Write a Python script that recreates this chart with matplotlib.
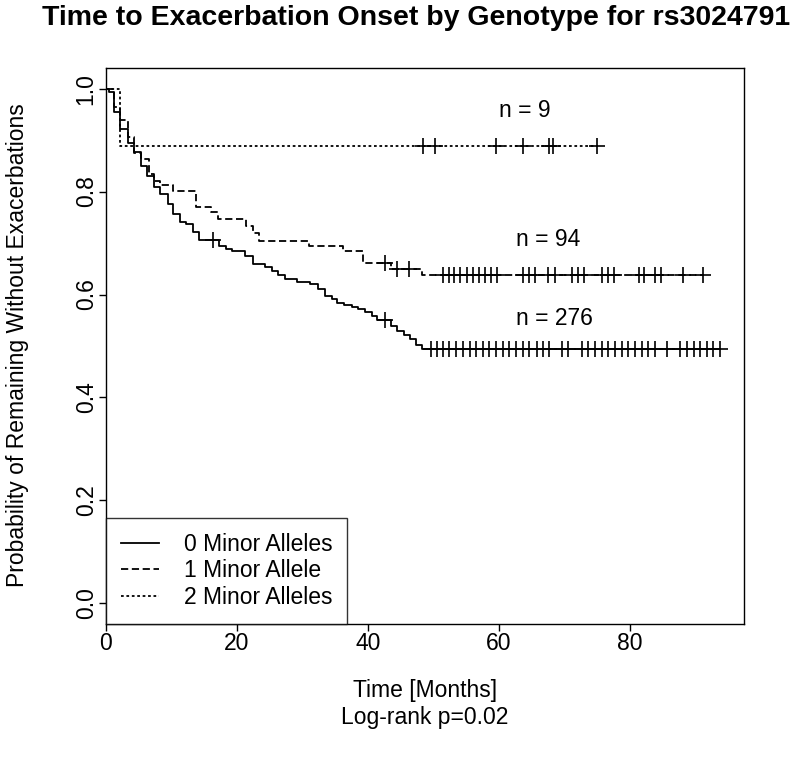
import matplotlib
matplotlib.use("Agg")
import matplotlib.pyplot as plt
import numpy as np

plt.rcParams['font.family'] = ['Liberation Sans', 'DejaVu Sans']

# 0 minor alleles (n = 276): tempi degli eventi e sopravvivenza dopo ogni evento
tempi0 = [0.5, 1.2, 2.1, 3.3, 4.2, 5.3, 6.2, 7.3, 8.2, 9.4, 10.3, 11.3, 12.2, 13.3,
          14.2, 17.3, 18.3, 19.3, 21.2, 22.4, 24.3, 25.3, 26.3, 27.3, 29.2, 31.2,
          32.4, 33.4, 34.5, 35.3, 36.4, 37.5, 38.5, 39.5, 40.6, 41.4, 43.5, 44.5,
          45.5, 46.4, 47.4, 48.3]
surv0 = [0.994, 0.955, 0.922, 0.895, 0.877, 0.850, 0.831, 0.809, 0.796, 0.776,
         0.757, 0.741, 0.736, 0.721, 0.706, 0.695, 0.688, 0.685, 0.674, 0.660,
         0.653, 0.646, 0.637, 0.630, 0.624, 0.620, 0.610, 0.598, 0.591, 0.584,
         0.579, 0.575, 0.571, 0.566, 0.558, 0.551, 0.538, 0.530, 0.521, 0.514,
         0.501, 0.494]
censure0 = [16.4, 42.6, 49.6, 50.5, 51.5, 52.4, 53.4, 54.5, 55.5, 56.5, 57.5, 58.5,
            59.6, 60.6, 61.6, 62.6, 63.6, 64.6, 65.8, 66.7, 67.7, 69.6, 70.6, 72.6,
            73.6, 74.7, 75.7, 76.7, 77.7, 78.7, 79.7, 80.8, 81.8, 82.8, 83.8, 85.6,
            87.6, 88.7, 89.7, 90.7, 91.7, 92.7, 93.7]

# 1 minor allele (n = 94)
tempi1 = [1.2, 2.1, 3.3, 4.2, 5.3, 6.5, 7.3, 8.2, 10.3, 13.8, 16.1, 17.1, 21.4,
          22.4, 23.4, 31.0, 36.2, 39.3, 43.5, 48.3]
surv1 = [0.965, 0.938, 0.905, 0.874, 0.864, 0.835, 0.820, 0.812, 0.801, 0.770,
         0.760, 0.746, 0.734, 0.720, 0.704, 0.695, 0.684, 0.661, 0.650, 0.638]
censure1 = [42.6, 44.4, 46.3, 51.4, 52.3, 53.2, 54.1, 55.1, 56.0, 56.9, 57.8, 58.7,
            59.7, 63.7, 64.6, 65.5, 67.5, 68.6, 71.1, 72.0, 72.9, 75.7, 76.6, 77.5,
            81.3, 82.2, 83.8, 84.7, 88.1, 91.2]

# 2 minor alleles (n = 9)
tempi2 = [2.1]
surv2 = [0.889]
censure2 = [48.4, 50.2, 59.5, 63.6, 67.6, 68.2, 74.9]

etichette = ['0 Minor Alleles', '1 Minor Allele', '2 Minor Alleles']
numeri = ['n = 276', 'n = 94', 'n = 9']
pos_n = [(68.5, 0.553), (67.5, 0.706), (64.0, 0.957)]


def disegna_curva(ax, tempi, surv, censure, stile, label):
    fine = max(max(censure), max(tempi))
    x = [0] + tempi + [fine]
    y = [1.0] + surv + [surv[-1]]
    ax.step(x, y, where='post', color='black', lw=1.3, linestyle=stile, label=label)
    t = np.array(tempi)
    s = np.array([1.0] + surv)
    yc = s[np.searchsorted(t, censure, side='right')]
    ax.plot(censure, yc, linestyle='none', marker='+', color='black',
            markersize=12, markeredgewidth=1.2)


fs = 16.5
fig = plt.figure(figsize=(8, 7.62), dpi=100)
ax = fig.add_axes([0.1325, 0.1811, 0.7975, 0.7297])

stili = ['-', (0, (4, 2)), (0, (1.5, 1.5))]
disegna_curva(ax, tempi0, surv0, censure0, stili[0], etichette[0])
disegna_curva(ax, tempi1, surv1, censure1, stili[1], etichette[1])
disegna_curva(ax, tempi2, surv2, censure2, stili[2], etichette[2])

for testo, (px, py) in zip(numeri, pos_n):
    ax.text(px, py, testo, fontsize=fs, ha='center', va='center')

ax.set_xlim(0, 97.4)
ax.set_ylim(-0.04, 1.04)
ax.set_xticks([0, 20, 40, 60, 80])
ax.set_yticks([0.0, 0.2, 0.4, 0.6, 0.8, 1.0])
ax.set_yticklabels(['0.0', '0.2', '0.4', '0.6', '0.8', '1.0'], rotation=90, va='center')
ax.tick_params(direction='out', length=5, width=1, labelsize=fs)
ax.tick_params(axis='x', pad=0.5)
ax.tick_params(axis='y', pad=1)
for sp in ax.spines.values():
    sp.set_linewidth(1)

fig.text(0.0225, 0.547, 'Probability of Remaining Without Exacerbations', fontsize=fs,
         rotation=90, ha='center', va='center')
fig.text(0.531, 0.094, 'Time [Months]', fontsize=fs, ha='center', va='center')
fig.text(0.531, 0.059, 'Log-rank p=0.02', fontsize=fs, ha='center', va='center')
fig.text(0.52, 0.977, 'Time to Exacerbation Onset by Genotype for rs3024791',
         fontsize=20.5, fontweight='bold', ha='center', va='center')

leg = ax.legend(loc='lower left', borderaxespad=0, fancybox=False, edgecolor='black',
                fontsize=fs, handlelength=1.65, handletextpad=1.1, labelspacing=0.16,
                borderpad=0.65)
leg.get_frame().set_linewidth(1)

fig.savefig('out.png', dpi=100)
